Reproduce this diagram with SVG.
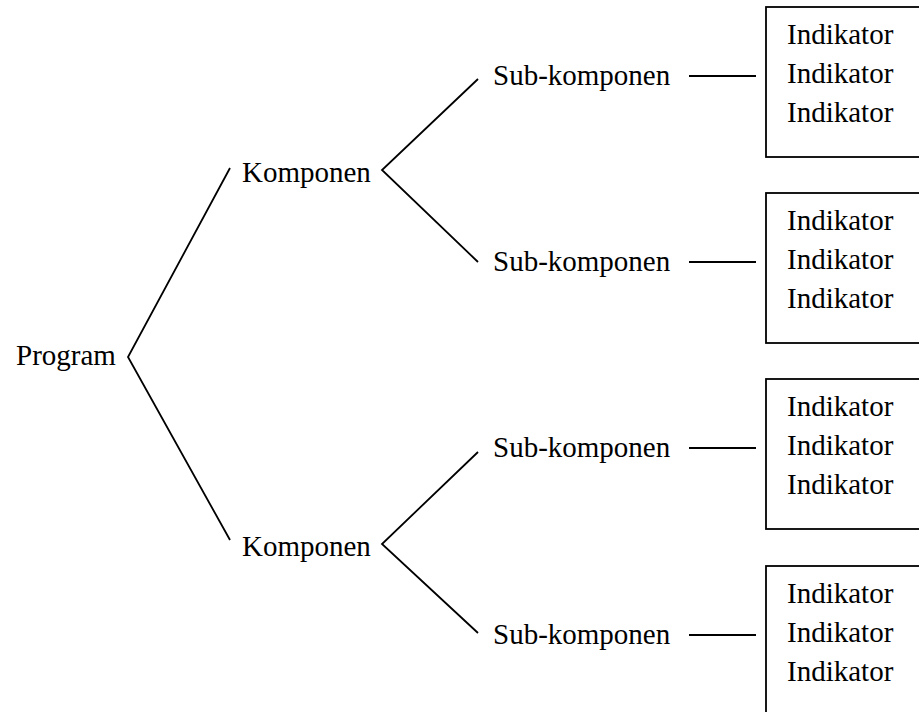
<svg xmlns="http://www.w3.org/2000/svg" width="919" height="712" viewBox="0 0 919 712">
<style>
text{font-family:"Liberation Serif","Times New Roman",serif;font-size:29px;fill:#000}
.c line,.c polyline{stroke:#000;stroke-width:1.8;fill:none}
rect{fill:#fff;stroke:#000;stroke-width:1.8}
</style>
<rect x="0" y="0" width="919" height="712" style="stroke:none"/>
<g class="c" id="connectors">
<polyline points="230,168 128,357 230,540"/>
<polyline points="478,79 382,170 478,262"/>
<polyline points="478,452 382,544 478,633"/>
<line x1="689" y1="76" x2="756" y2="76"/>
<line x1="689" y1="262" x2="756" y2="262"/>
<line x1="689" y1="448" x2="756" y2="448"/>
<line x1="689" y1="635" x2="756" y2="635"/>
</g>
<g id="program"><text x="16" y="365">Program</text></g>
<g id="komponen1"><text x="242" y="182">Komponen</text></g>
<g id="komponen2"><text x="242" y="556">Komponen</text></g>
<g id="sub1"><text x="493" y="85">Sub-komponen</text></g>
<g id="sub2"><text x="493" y="271">Sub-komponen</text></g>
<g id="sub3"><text x="493" y="457">Sub-komponen</text></g>
<g id="sub4"><text x="493" y="644">Sub-komponen</text></g>
<g id="box1"><rect x="766" y="7" width="200" height="150"/><text x="787" y="44">Indikator</text><text x="787" y="83">Indikator</text><text x="787" y="122">Indikator</text></g>
<g id="box2"><rect x="766" y="193" width="200" height="150"/><text x="787" y="230">Indikator</text><text x="787" y="269">Indikator</text><text x="787" y="308">Indikator</text></g>
<g id="box3"><rect x="766" y="379" width="200" height="150"/><text x="787" y="416">Indikator</text><text x="787" y="455">Indikator</text><text x="787" y="494">Indikator</text></g>
<g id="box4"><rect x="766" y="566" width="200" height="150"/><text x="787" y="603">Indikator</text><text x="787" y="642">Indikator</text><text x="787" y="681">Indikator</text></g>
</svg>
